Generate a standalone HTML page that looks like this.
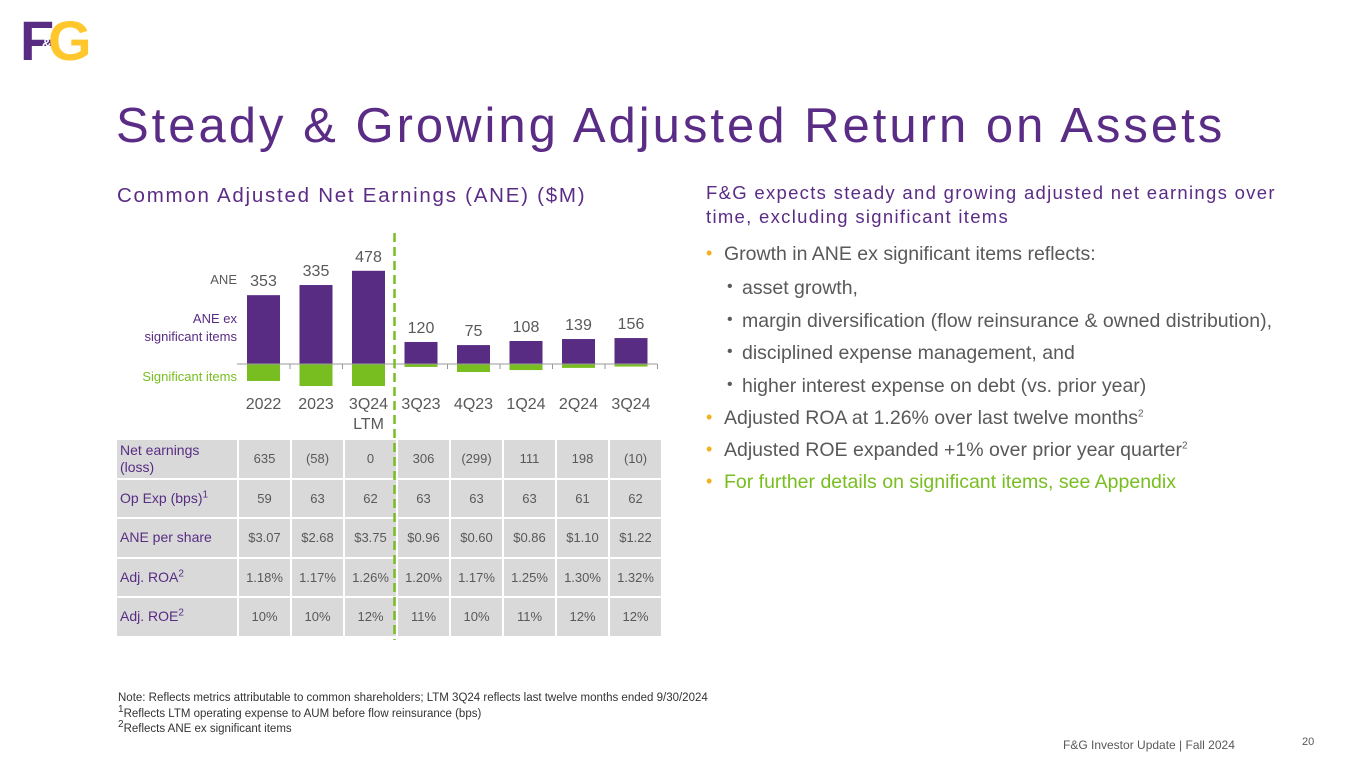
<!DOCTYPE html>
<html><head><meta charset="utf-8"><style>
body{margin:0;width:1365px;height:768px;background:#fff;position:relative;overflow:hidden;font-family:"Liberation Sans",sans-serif}
.a{position:absolute;white-space:nowrap}
.rt{color:#595959;font-size:19.5px}
.dot{position:absolute;color:#F2B01E;font-size:18px}
.sdot{position:absolute;color:#595959;font-size:16px}
table{position:absolute;left:117px;top:440px;border-collapse:separate;border-spacing:0}
td{background:#d9d9d9;border-right:2px solid #fff;border-bottom:2px solid #fff;font-size:13px;color:#595959;text-align:center;height:37.5px;padding:0;width:51px}
td.l{width:117px;text-align:left;color:#582C83;font-size:14px;padding-left:3px;line-height:17px}
sup{font-size:10px;line-height:0}
</style></head><body>
<div class="a" style="left:20px;top:14px;height:52px">
<span style="position:absolute;left:0;top:-6px;font:bold 56px 'Liberation Sans',sans-serif;color:#582C83;letter-spacing:-6px">F</span>
<span style="position:absolute;left:28px;top:-6px;font:bold 56px 'Liberation Sans',sans-serif;color:#FFC72C">G</span>
<span style="position:absolute;left:22px;top:22px;font:bold 13px 'Liberation Sans',sans-serif;color:#fff">&amp;</span></div>
<div class="a" style="left:116px;top:98px;font-size:49px;color:#5B2C86;letter-spacing:3px">Steady &amp; Growing Adjusted Return on Assets</div>
<div class="a" style="left:117px;top:184px;font-size:20.5px;color:#5B2C86;letter-spacing:1.75px">Common Adjusted Net Earnings (ANE) ($M)</div>
<div class="a" style="left:706px;top:181px;font-size:18.5px;color:#5B2C86;line-height:24px;letter-spacing:1.3px">F&amp;G expects steady and growing adjusted net earnings over<br>time, excluding significant items</div>
<div>
<span class="dot" style="left:706px;top:243px">•</span><div class="a rt" style="left:724px;top:243px">Growth in ANE ex significant items reflects:</div>
<span class="sdot" style="left:727px;top:278px">•</span><div class="a rt" style="left:742px;top:277px">asset growth,</div>
<span class="sdot" style="left:727px;top:311px">•</span><div class="a rt" style="left:742px;top:310px">margin diversification (flow reinsurance &amp; owned distribution),</div>
<span class="sdot" style="left:727px;top:343px">•</span><div class="a rt" style="left:742px;top:342px">disciplined expense management, and</div>
<span class="sdot" style="left:727px;top:376px">•</span><div class="a rt" style="left:742px;top:375px">higher interest expense on debt (vs. prior year)</div>
<span class="dot" style="left:706px;top:407px">•</span><div class="a rt" style="left:724px;top:407px">Adjusted ROA at 1.26% over last twelve months<sup>2</sup></div>
<span class="dot" style="left:706px;top:439px">•</span><div class="a rt" style="left:724px;top:439px">Adjusted ROE expanded +1% over prior year quarter<sup>2</sup></div>
<span class="dot" style="left:706px;top:471px">•</span><div class="a rt" style="left:724px;top:471px;color:#78BE20">For further details on significant items, see Appendix</div>
</div>
<table>
<tr><td class="l">Net earnings<br>(loss)</td><td>635</td><td>(58)</td><td>0</td><td>306</td><td>(299)</td><td>111</td><td>198</td><td>(10)</td></tr>
<tr><td class="l">Op Exp (bps)<sup>1</sup></td><td>59</td><td>63</td><td>62</td><td>63</td><td>63</td><td>63</td><td>61</td><td>62</td></tr>
<tr><td class="l">ANE per share</td><td>$3.07</td><td>$2.68</td><td>$3.75</td><td>$0.96</td><td>$0.60</td><td>$0.86</td><td>$1.10</td><td>$1.22</td></tr>
<tr><td class="l">Adj. ROA<sup>2</sup></td><td>1.18%</td><td>1.17%</td><td>1.26%</td><td>1.20%</td><td>1.17%</td><td>1.25%</td><td>1.30%</td><td>1.32%</td></tr>
<tr><td class="l">Adj. ROE<sup>2</sup></td><td>10%</td><td>10%</td><td>12%</td><td>11%</td><td>10%</td><td>11%</td><td>12%</td><td>12%</td></tr>
</table>
<svg id="chart" width="1365" height="768" style="position:absolute;left:0;top:0;pointer-events:none" font-family="Liberation Sans, sans-serif"></svg>
<div class="a" style="left:118px;top:691px;font-size:11.5px;color:#333;line-height:15.5px">Note: Reflects metrics attributable to common shareholders; LTM 3Q24 reflects last twelve months ended 9/30/2024<br><sup>1</sup>Reflects LTM operating expense to AUM before flow reinsurance (bps)<br><sup>2</sup>Reflects ANE ex significant items</div>
<div class="a" style="left:1063px;top:738px;font-size:12px;color:#595959">F&amp;G Investor Update | Fall 2024</div>
<div class="a" style="left:1302px;top:736px;font-size:11px;color:#595959">20</div>
<script>
const categories=["2022","2023","3Q24","3Q23","4Q23","1Q24","2Q24","3Q24"];
const labelValues=[353,335,478,120,75,108,139,156];
const exValues=[353,405,478,113,97,118,128,133];
const sigValues=[-87,-113,-113,-15,-41,-31,-20,-13];
const svg=document.getElementById('chart');
const NS='http://www.w3.org/2000/svg';
const y0=364,k=0.195,x0=247,step=52.5,bw=33;
const X=i=>x0+i*step, Y=v=>y0-v*k;
function mk(t,a){const e=document.createElementNS(NS,t);for(const n in a)e.setAttribute(n,a[n]);svg.appendChild(e);return e;}
categories.forEach((c,i)=>{
  const top=Y(exValues[i]);
  const b=mk('rect',{x:X(i),y:top,width:bw,height:y0-top,fill:'#582C83'});
  
  
  const s=mk('rect',{x:X(i),y:y0,width:bw,height:Y(sigValues[i])-y0,fill:'#78BE20'});
  
  
  const t=mk('text',{x:X(i)+bw/2,y:top-9,'text-anchor':'middle','font-size':16,fill:'#595959'});t.textContent=labelValues[i];
  
  
  const l=mk('text',{x:X(i)+bw/2,y:409,'text-anchor':'middle','font-size':16,fill:'#595959'});l.textContent=c;
  
  
  if(i==2){const l2=mk('text',{x:X(i)+bw/2,y:429,'text-anchor':'middle','font-size':16,fill:'#595959'});l2.textContent='LTM';}
  mk('line',{x1:X(i)+bw+10,y1:y0,x2:X(i)+bw+10,y2:y0+5,stroke:'#999'});
});
const ax=mk('line',{x1:237,y1:y0,x2:X(7)+bw+10,y2:y0,stroke:'#999','stroke-width':1});


const d=mk('line',{x1:394.5,y1:233,x2:394.5,y2:640,stroke:'#78BE20','stroke-width':2.5,'stroke-dasharray':'9,5'});


[['ANE',284,'#595959'],['ANE ex',323,'#582C83'],['significant items',341,'#582C83'],['Significant items',381,'#78BE20']].forEach(a=>{
  const t=mk('text',{x:237,y:a[1],'text-anchor':'end','font-size':13,fill:a[2]});t.textContent=a[0];
  
  
});
</script>
</body></html>
